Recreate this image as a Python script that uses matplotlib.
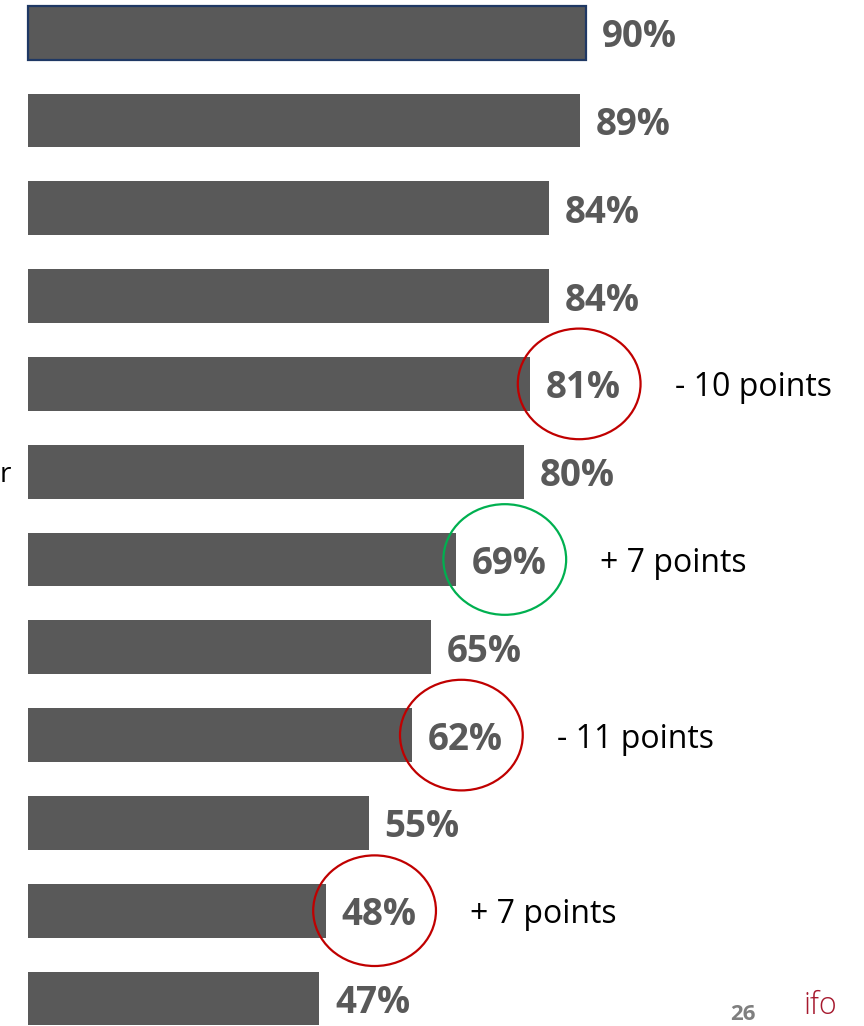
import matplotlib
matplotlib.use("Agg")
import matplotlib.pyplot as plt
from matplotlib.patches import Ellipse

plt.rcParams['font.family'] = ['Open Sans', 'DejaVu Sans']

# values, top to bottom
values = [90, 89, 84, 84, 81, 80, 69, 65, 62, 55, 48, 47]
labels = [f"{v}%" for v in values]

# bars that carry a circle and a change note
marked_idx = [4, 6, 8, 10]
marked_notes = ["- 10 points", "+ 7 points", "- 11 points", "+ 7 points"]
marked_colors = ["#C00000", "#00B050", "#C00000", "#C00000"]

BAR_COLOR = "#595959"
LABEL_COLOR = "#595959"

# pixel layout: 0% at x=28px, 6.2px per point, rows every 87.8px from y=32.7px
W, H = 864, 1026
X0, PX_PER = 28, 6.2
Y0, ROW = 32.7, 87.8

fig = plt.figure(figsize=(W / 100, H / 100), dpi=100)
ax = fig.add_axes([0, 0, 1, 1])
ax.set_xlim(-X0 / PX_PER, (W - X0) / PX_PER)
ax.set_ylim((H - Y0) / ROW, -Y0 / ROW)
ax.axis("off")

ypos = list(range(len(values)))
bars = ax.barh(ypos, values, height=0.615, color=BAR_COLOR, linewidth=0)
# the first bar has a dark blue frame
bars[0].set_edgecolor("#1F3864")
bars[0].set_linewidth(1.6)

for y, v, lab in zip(ypos, values, labels):
    ax.text(v + 2.5, y, lab, ha="left", va="center_baseline", fontsize=26.5,
            fontweight="bold", color=LABEL_COLOR)

for i, note, col in zip(marked_idx, marked_notes, marked_colors):
    v = values[i]
    ax.add_patch(Ellipse((v + 7.9, i), width=19.8, height=1.26, fill=False,
                         edgecolor=col, linewidth=1.6))
    ax.text(v + 23.3, i, note, ha="left", va="center_baseline", fontsize=23,
            color="black")

# bits at the edges of the slide
ax.text(-X0 / PX_PER, 5, "r", ha="left", va="center_baseline", fontsize=20,
        color="black")
fig.text(730 / W, 1 / H, "26", ha="left", va="bottom", fontsize=16,
         fontweight="bold", color="#7F7F7F")
fig.text(803 / W, 4 / H, "ifo", ha="left", va="bottom", fontsize=22,
         color="#A6192E", fontweight="light")

fig.savefig("out.png", dpi=100)
